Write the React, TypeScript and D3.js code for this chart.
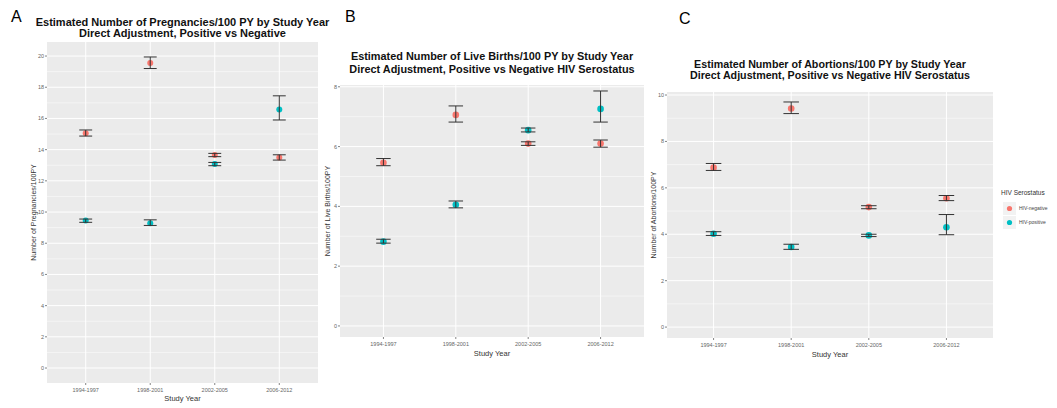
import React from "react";
import * as d3 from "d3";

const categories = ["1994-1997", "1998-2001", "2002-2005", "2006-2012"];
const seriesNames = ["HIV-negative", "HIV-positive"];
const seriesColors = ["#F8766D", "#00BFC4"];

// Panel A: pregnancies
const pregNeg = [15.05, 19.55, 13.65, 13.5];
const pregNegLo = [14.87, 19.2, 13.55, 13.33];
const pregNegHi = [15.26, 19.94, 13.76, 13.67];
const pregPos = [9.45, 9.28, 13.08, 16.58];
const pregPosLo = [9.34, 9.14, 12.97, 15.9];
const pregPosHi = [9.55, 9.5, 13.18, 17.45];
const pregTicks = [0, 2, 4, 6, 8, 10, 12, 14, 16, 18, 20];

// Panel B: live births
const birthNeg = [5.46, 7.06, 6.1, 6.1];
const birthNegLo = [5.36, 6.82, 6.04, 5.98];
const birthNegHi = [5.6, 7.36, 6.16, 6.22];
const birthPos = [2.82, 4.05, 6.55, 7.26];
const birthPosLo = [2.77, 3.95, 6.49, 6.82];
const birthPosHi = [2.9, 4.18, 6.62, 7.86];
const birthTicks = [0, 2, 4, 6, 8];

// Panel C: abortions
const abNeg = [6.87, 9.42, 5.17, 5.55];
const abNegLo = [6.75, 9.2, 5.1, 5.45];
const abNegHi = [7.05, 9.7, 5.23, 5.67];
const abPos = [4.02, 3.45, 3.95, 4.3];
const abPosLo = [3.95, 3.35, 3.9, 3.98];
const abPosHi = [4.11, 3.57, 4.0, 4.85];
const abTicks = [0, 2, 4, 6, 8, 10];

type Series = { v: number[]; lo: number[]; hi: number[] };

type PanelProps = {
  letter: string;
  letterX: number;
  letterY: number;
  title: string[];
  titleY: number[];
  titleSize: number;
  yLabel: string;
  left: number;
  right: number;
  top: number;
  bottom: number;
  yDomain: [number, number];
  ticks: number[];
  series: Series[];
  tickFont: number;
  labelFont: number;
  radius: number;
  xLabelY: number;
  tickLabelY: number;
  yLabelX: number;
};

const FONT = "'Liberation Sans', Arial, Helvetica, sans-serif";

function Panel(p: PanelProps) {
  const x = d3
    .scalePoint<string>()
    .domain(categories)
    .range([p.left, p.right])
    .padding(0.6);
  const step = x.step();
  const y = d3.scaleLinear().domain(p.yDomain).range([p.bottom, p.top]);
  const minor = p.ticks.slice(0, -1).map((t, i) => (t + p.ticks[i + 1]) / 2);
  const lastStep = p.ticks[1] - p.ticks[0];
  if (p.ticks[p.ticks.length - 1] + lastStep / 2 < p.yDomain[1]) minor.push(p.ticks[p.ticks.length - 1] + lastStep / 2);
  const bw = step * 0.2;
  const cx = (p.left + p.right) / 2;
  return (
    <g>
      <text x={p.letterX} y={p.letterY} fontSize={16} fontFamily={FONT} fill="#000">
        {p.letter}
      </text>
      {p.title.map((t, i) => (
        <text
          key={i}
          x={cx}
          y={p.titleY[i]}
          textAnchor="middle"
          fontSize={p.titleSize}
          fontWeight="bold"
          fontFamily={FONT}
          fill="#111"
        >
          {t}
        </text>
      ))}
      <rect x={p.left} y={p.top} width={p.right - p.left} height={p.bottom - p.top} fill="#EBEBEB" />
      {minor.map((t) => (
        <line key={"m" + t} x1={p.left} x2={p.right} y1={y(t)} y2={y(t)} stroke="#fff" strokeWidth={0.5} />
      ))}
      {p.ticks.map((t) => (
        <line key={"g" + t} x1={p.left} x2={p.right} y1={y(t)} y2={y(t)} stroke="#fff" strokeWidth={1} />
      ))}
      {categories.map((c) => (
        <line key={"x" + c} x1={x(c)} x2={x(c)} y1={p.top} y2={p.bottom} stroke="#fff" strokeWidth={1} />
      ))}
      {p.ticks.map((t) => (
        <g key={"t" + t}>
          <line x1={p.left - 2} x2={p.left} y1={y(t)} y2={y(t)} stroke="#333" strokeWidth={0.6} />
          <text
            x={p.left - 3}
            y={y(t)}
            dy="0.35em"
            textAnchor="end"
            fontSize={p.tickFont}
            fontFamily={FONT}
            fill="#666"
          >
            {t}
          </text>
        </g>
      ))}
      {categories.map((c) => (
        <g key={"xt" + c}>
          <line x1={x(c)} x2={x(c)} y1={p.bottom} y2={p.bottom + 2} stroke="#333" strokeWidth={0.6} />
          <text
            x={x(c)}
            y={p.tickLabelY}
            textAnchor="middle"
            fontSize={p.tickFont}
            fontFamily={FONT}
            fill="#666"
          >
            {c}
          </text>
        </g>
      ))}
      <text x={cx} y={p.xLabelY} textAnchor="middle" fontSize={p.labelFont} fontFamily={FONT} fill="#333">
        Study Year
      </text>
      <text
        transform={`translate(${p.yLabelX},${(p.top + p.bottom) / 2}) rotate(-90)`}
        textAnchor="middle"
        fontSize={p.labelFont - 0.5}
        fontFamily={FONT}
        fill="#333"
      >
        {p.yLabel}
      </text>
      {p.series.map((s, si) =>
        categories.map((c, i) => {
          const xc = x(c) as number;
          return (
            <g key={si + "-" + c}>
              <circle cx={xc} cy={y(s.v[i])} r={p.radius} fill={seriesColors[si]} />
              <line x1={xc} x2={xc} y1={y(s.lo[i])} y2={y(s.hi[i])} stroke="#333" strokeWidth={1} />
              <line x1={xc - bw / 2} x2={xc + bw / 2} y1={y(s.lo[i])} y2={y(s.lo[i])} stroke="#333" strokeWidth={1} />
              <line x1={xc - bw / 2} x2={xc + bw / 2} y1={y(s.hi[i])} y2={y(s.hi[i])} stroke="#333" strokeWidth={1} />
            </g>
          );
        })
      )}
    </g>
  );
}

export default function App() {
  return (
    <svg
      width={1057}
      height={408}
      style={{ position: "absolute", left: 0, top: 0, background: "#fff" }}
    >
      <rect width={1057} height={408} fill="#fff" />
      <Panel
        letter="A"
        letterX={11}
        letterY={22}
        title={["Estimated Number of Pregnancies/100 PY by Study Year", "Direct Adjustment, Positive vs Negative"]}
        titleY={[26, 37]}
        titleSize={11}
        yLabel="Number of Pregnancies/100PY"
        left={47}
        right={318}
        top={42}
        bottom={383}
        yDomain={[-0.96, 20.9]}
        ticks={pregTicks}
        series={[
          { v: pregNeg, lo: pregNegLo, hi: pregNegHi },
          { v: pregPos, lo: pregPosLo, hi: pregPosHi },
        ]}
        tickFont={5.5}
        labelFont={7.5}
        radius={3}
        tickLabelY={392}
        xLabelY={401}
        yLabelX={36}
      />
      <Panel
        letter="B"
        letterX={345}
        letterY={22}
        title={["Estimated Number of Live Births/100 PY by Study Year", "Direct Adjustment, Positive vs Negative HIV Serostatus"]}
        titleY={[60, 73]}
        titleSize={10.9}
        yLabel="Number of Live Births/100PY"
        left={340}
        right={644}
        top={85}
        bottom={337}
        yDomain={[-0.37, 8.06]}
        ticks={birthTicks}
        series={[
          { v: birthNeg, lo: birthNegLo, hi: birthNegHi },
          { v: birthPos, lo: birthPosLo, hi: birthPosHi },
        ]}
        tickFont={5.5}
        labelFont={7.5}
        radius={3.3}
        tickLabelY={346}
        xLabelY={356}
        yLabelX={330}
      />
      <Panel
        letter="C"
        letterX={679}
        letterY={24}
        title={["Estimated Number of Abortions/100 PY by Study Year", "Direct Adjustment, Positive vs Negative HIV Serostatus"]}
        titleY={[68, 79]}
        titleSize={10.7}
        yLabel="Number of Abortions/100PY"
        left={667}
        right={993}
        top={92}
        bottom={338}
        yDomain={[-0.47, 10.13]}
        ticks={abTicks}
        series={[
          { v: abNeg, lo: abNegLo, hi: abNegHi },
          { v: abPos, lo: abPosLo, hi: abPosHi },
        ]}
        tickFont={5.5}
        labelFont={7.5}
        radius={3.3}
        tickLabelY={347}
        xLabelY={357}
        yLabelX={656}
      />
      <g fontFamily={FONT}>
        <text x={1001} y={195} fontSize={6.5} fill="#333">
          HIV Serostatus
        </text>
        {seriesNames.map((n, i) => (
          <g key={n}>
            <rect x={1003} y={202 + i * 14} width={13} height={13} fill="#F2F2F2" />
            <circle cx={1009.5} cy={208.5 + i * 14} r={2.6} fill={seriesColors[i]} />
            <text x={1019} y={208.5 + i * 14} dy="0.35em" fontSize={5} fill="#444">
              {n}
            </text>
          </g>
        ))}
      </g>
    </svg>
  );
}
